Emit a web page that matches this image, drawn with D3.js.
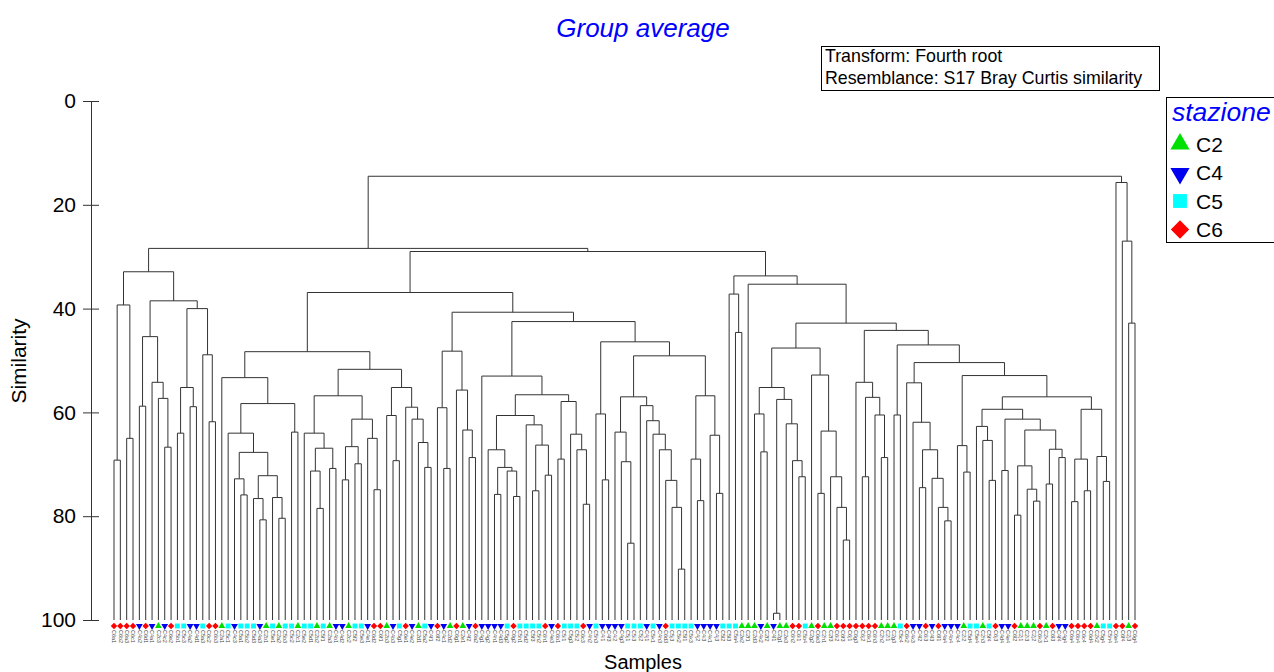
<!DOCTYPE html>
<html>
<head>
<meta charset="utf-8">
<script src="https://cdn.jsdelivr.net/npm/d3@7"></script>
<style>
  body { margin: 0; background: #fff; }
  svg { display: block; font-family: Arial, "Liberation Sans", sans-serif; }
</style>
</head>
<body>
<svg id="chart" width="1274" height="672"></svg>
<script>
// leaf placeholder, internal node = [similarity, left, right]
const L = null

const clusterA = [32.9,
  [39.3, [69.2, L, L], [65.0, L, L]],
  [38.5,
    [45.4, [58.8, L, L], [54.2, L, [57.3, L, [66.7, L, L]]]],
    [40.0, [55.2, [64.0, L, L], [58.9, L, L]], [48.9, L, [61.8, L, L]]]]]

const clusterB1 = [48.3,
  [53.3, L,
    [58.3,
      [64.0, L, [67.7, [72.8, L, [75.9, L, L]], [72.2, [76.6, L, [80.7, L, L]], [76.4, L, [80.4, L, L]]]]],
      [63.8, L, L]]],
  [51.7,
    [56.8,
      [64.0, L, [66.9, [71.3, L, [78.5, L, L]], [70.8, L, L]]],
      [61.3, [66.6, [73.0, L, L], [69.9, L, L]], [65.0, L, [74.9, L, L]]]],
    [55.2, [60.6, L, [69.3, L, L]], [59.0, L, [61.3, L, [65.8, L, [70.6, L, L]]]]]]]

const clusterB2 = [40.7,
  [48.2, [59.1, L, [70.8, L, L]], [55.7, L, [63.4, L, [68.7, L, L]]]],
  [42.5,
    [53.0, L,
      [56.6,
        [60.6,
          [67.2, L, [70.6, [75.8, L, L], [71.3, L, [76.2, L, L]]]],
          [62.4, L, [66.3, [75.1, L, L], [72.1, L, L]]]],
        [57.9, [69.0, L, L], [64.2, L, [67.2, L, [77.7, L, L]]]]]],
    [46.4,
      [60.3, L, [73.0, L, L]],
      [49.1,
        [57.0,
          [63.8, L, [69.5, L, [85.2, L, L]]],
          [58.7, L, [61.6, L, [64.2, L, [67.2, L, [73.1, L, [78.3, L, [90.2, L, L]]]]]]]],
        [56.8, [69.0, L, [77.0, L, L]], [64.4, L, [75.6, L, L]]]]]]]

const clusterC4 = [47.6,
  [55.2, [60.3, L, [67.6, L, L]], [57.5, [98.7, L, L], [62.2, L, [69.3, L, [72.4, L, L]]]]],
  [52.8, L, [63.6, [75.6, L, L], [72.4, L, [78.3, L, [84.6, L, L]]]]]]

const clusterC5 = [44.2,
  [54.2, L, [57.1, [72.4, L, L], [60.5, L, [68.7, L, L]]]],
  [47.0,
    [60.5, L, L],
    [50.4,
      [54.3, L, [61.9, L, [67.2, [74.5, L, L], [72.7, L, [78.3, L, [80.9, L, L]]]]]],
      [52.9,
        [66.4, L, [71.5, L, L]],
        [57.0,
          [59.4,
            [62.7, L, [65.4, L, [73.1, L, L]]],
            [61.3, [71.2, L, L],
              [63.4, [70.3, [79.8, L, L], [74.8, L, [77.1, L, L]]], [67.1, [73.8, L, L], [68.7, L, L]]]]],
          [59.4, [69.0, [77.2, L, L], [75.1, L, L]], [68.5, L, [73.3, L, L]]]]]]]]

const clusterC = [33.7,
  [37.2, L, [44.6, L, L]],
  [35.3, L, [42.8, clusterC4, clusterC5]]]

const outgroup = [15.7, L, [27.0, L, [42.8, L, L]]]

const tree = [14.5,
  [28.4, clusterA, [29.0, [36.9, clusterB1, clusterB2], clusterC]],
  outgroup]

const sampleLabels = (
  "C6a1 C6b2 C6a3 C6c1 C4b2 C6d1 C4a1 C2c3 C4c2 C6e2 " +
  "C5b1 C5c3 C4a2 C4d1 C5a3 C6c2 C6b3 C2a1 C5c1 C4c3 " +
  "C5a1 C5b2 C5d3 C4a3 C2b1 C5e1 C2a2 C5b3 C5c2 C2c1 " +
  "C5e2 C5d1 C2b2 C5f1 C2a3 C4b1 C4d2 C2c2 C5f2 C5e3 " +
  "C4e1 C6d2 C6f1 C2b3 C4b3 C5g1 C6e1 C4e2 C2d1 C5a2 " +
  "C4f1 C6f2 C4c1 C2d2 C6g1 C2e1 C4f2 C6a2 C4g1 C4g2 " +
  "C4h1 C4d3 C5g2 C6g2 C5h1 C5d2 C5f3 C5h2 C6h1 C4e3 " +
  "C6b1 C5i1 C5g3 C5i2 C6c3 C4h2 C5h3 C4i1 C4f3 C4i2 " +
  "C4g3 C5j1 C5i3 C5j2 C4j1 C5k1 C4h3 C6d3 C5j3 C5k2 " +
  "C5l1 C5k3 C4j2 C4i3 C4k1 C4j3 C5l2 C5l3 C5a4 C2e2 " +
  "C2f1 C2d3 C4k2 C2f2 C4l1 C2g1 C2e3 C6h2 C6i1 C5b4 " +
  "C2g2 C6e3 C2h1 C2f3 C6i2 C6f3 C6j1 C6g3 C6j2 C6k1 " +
  "C6h3 C2h2 C2i1 C2g3 C5c4 C6k2 C4k3 C4l2 C6i3 C4l3 " +
  "C6l1 C4a4 C4b4 C4c4 C2i2 C5d4 C5e4 C2h3 C5f4 C6j3 " +
  "C4d4 C4e4 C6l2 C2j1 C2i3 C2j2 C6k3 C2k1 C6l3 C4f4 " +
  "C4g4 C6a4 C6b4 C6c4 C6d4 C2k2 C5g4 C5h4 C6e4 C6f4 " +
  "C2j3 C6g4").split(" ")

const stations = ["C2", "C4", "C5", "C6"]
const stationColors = ["#00e000", "#0000f0", "#00ffff", "#ff0000"]
const stationSymbols = [d3.symbolTriangle, d3.symbolTriangle, d3.symbolSquare, d3.symbolSquare]
const stationRotate = [0, 180, 0, 45]
const stationScale = [1, 1, 1.2, 1.05]

const yTicks = [0, 20, 40, 60, 80, 100]

const svg = d3.select("#chart")

function toNode(t) {
  return t === null ? { h: 100 } : { h: t[0], children: [toNode(t[1]), toNode(t[2])] }
}

const root = d3.hierarchy(toNode(tree))
const leaves = root.leaves()
leaves.forEach((d, i) => { d.i = i; d.label = sampleLabels[i] })

const x = d3.scaleLinear().domain([0, leaves.length - 1]).range([114, 1135])
const y = d3.scaleLinear().domain([0, 100]).range([101, 620])

root.eachAfter(d => {
  d.px = d.children ? (d.children[0].px + d.children[1].px) / 2 : x(d.i)
})

// branches
svg.append("g")
  .attr("fill", "none")
  .attr("stroke", "#333")
  .attr("stroke-width", 1)
  .selectAll("path")
  .data(root.descendants().filter(d => d.children))
  .enter()
  .append("path")
  .attr("d", d => {
    let a = d.children[0], b = d.children[1]
    return "M" + a.px + "," + y(a.data.h) + "V" + y(d.data.h) + "H" + b.px + "V" + y(b.data.h)
  })

let symbolFor = (st, size) => {
  let k = stations.indexOf(st)
  return {
    path: d3.symbol().type(stationSymbols[k]).size(size * stationScale[k])(),
    rot: stationRotate[k],
    color: stationColors[k]
  }
}

// leaf markers
svg.append("g")
  .selectAll("path")
  .data(leaves)
  .enter()
  .append("path")
  .each(function (d) {
    let s = symbolFor(d.label.slice(0, 2), 20)
    d3.select(this)
      .attr("d", s.path)
      .attr("fill", s.color)
      .attr("transform", "translate(" + d.px + ",626) rotate(" + s.rot + ")")
  })

// leaf labels
svg.append("g")
  .selectAll("text")
  .data(leaves)
  .enter()
  .append("text")
  .attr("transform", d => "translate(" + (d.px - 1.8) + ",630) rotate(90)")
  .attr("font-size", 5.5)
  .attr("fill", "#444")
  .text(d => d.label)

// y axis
let yAxis = svg.append("g")
  .attr("transform", "translate(91,0)")
  .call(d3.axisLeft(y).tickValues(yTicks).tickSize(8).tickPadding(7).tickSizeOuter(0))

yAxis.select(".domain").attr("stroke", "#333")
yAxis.selectAll(".tick line").attr("x1", 8).attr("x2", -8).attr("stroke", "#333")
yAxis.selectAll(".tick text")
  .attr("font-size", 21)
  .attr("font-family", "Arial, 'Liberation Sans', sans-serif")
  .attr("fill", "#000")

svg.append("text")
  .attr("transform", "translate(26,361) rotate(-90)")
  .attr("text-anchor", "middle")
  .attr("font-size", 21)
  .text("Similarity")

svg.append("text")
  .attr("x", 643)
  .attr("y", 669)
  .attr("text-anchor", "middle")
  .attr("font-size", 20)
  .text("Samples")

// title
svg.append("text")
  .attr("x", 643)
  .attr("y", 37)
  .attr("text-anchor", "middle")
  .attr("font-size", 26)
  .attr("font-style", "italic")
  .attr("fill", "#0000ff")
  .text("Group average")

// info box
svg.append("rect")
  .attr("x", 821.5).attr("y", 46.5).attr("width", 338).attr("height", 44)
  .attr("fill", "#fff").attr("stroke", "#000")

let infoLines = ["Transform: Fourth root", "Resemblance: S17 Bray Curtis similarity"]
svg.append("g")
  .selectAll("text")
  .data(infoLines)
  .enter()
  .append("text")
  .attr("x", 825)
  .attr("y", (d, i) => 62 + i * 22)
  .attr("font-size", 17.8)
  .text(d => d)

// legend
let legend = svg.append("g")
legend.append("rect")
  .attr("x", 1166.5).attr("y", 97.5).attr("width", 130).attr("height", 145)
  .attr("fill", "#fff").attr("stroke", "#000")

legend.append("text")
  .attr("x", 1172)
  .attr("y", 121)
  .attr("font-size", 26.5)
  .attr("font-style", "italic")
  .attr("fill", "#0000ff")
  .text("stazione")

let entry = legend.selectAll("g.entry")
  .data(stations)
  .enter()
  .append("g")
  .attr("transform", (d, i) => "translate(0," + (144 + i * 28.5) + ")")

entry.append("path")
  .each(function (d) {
    let s = symbolFor(d, 160)
    d3.select(this)
      .attr("d", s.path)
      .attr("fill", s.color)
      .attr("transform", "translate(1180," + (s.rot === 180 ? 1 : 0) + ") rotate(" + s.rot + ")")
  })

entry.append("text")
  .attr("x", 1196)
  .attr("y", 7.5)
  .attr("font-size", 21)
  .text(d => d)
</script>
</body>
</html>
